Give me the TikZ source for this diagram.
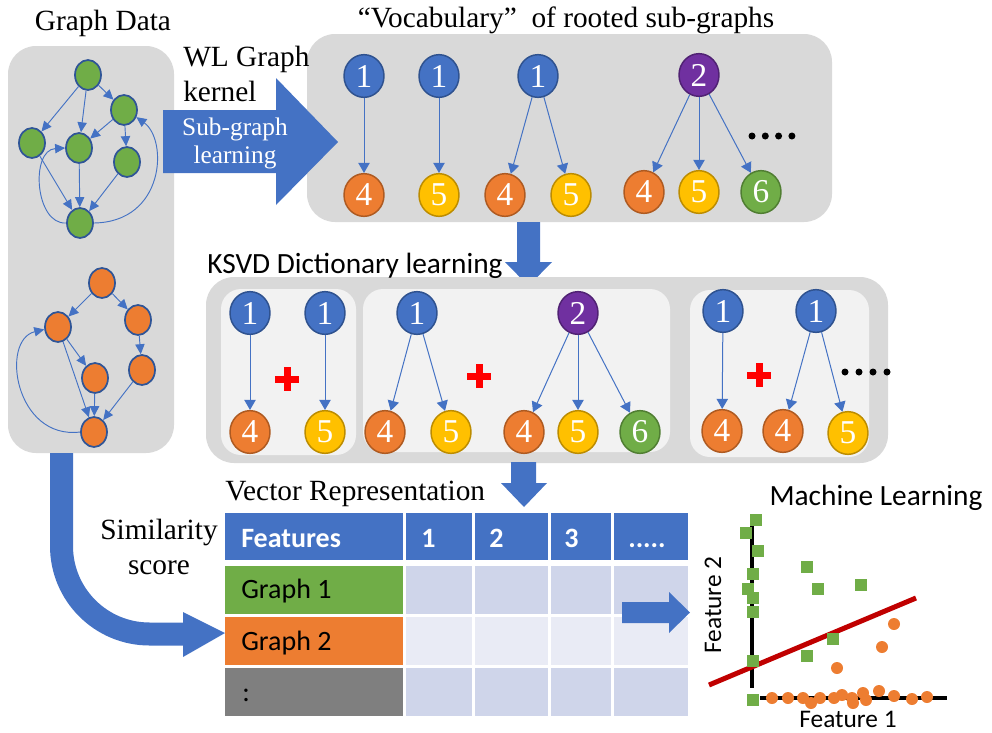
\documentclass[tikz,border=0pt]{standalone}
\usepackage{fontspec}
\setmainfont{Liberation Serif}
\setsansfont{Carlito}
\usetikzlibrary{shapes.geometric,arrows.meta,positioning,calc}

\definecolor{nodeblue}{RGB}{68,114,196}
\definecolor{blueline}{RGB}{47,82,143}
\definecolor{gline}{RGB}{47,85,151}
\definecolor{nodeorange}{RGB}{237,125,49}
\definecolor{orangeline}{RGB}{174,90,33}
\definecolor{nodeyellow}{RGB}{255,192,0}
\definecolor{yellowline}{RGB}{188,140,0}
\definecolor{nodegreen}{RGB}{112,173,71}
\definecolor{greenline}{RGB}{80,126,50}
\definecolor{nodepurple}{RGB}{112,48,160}
\definecolor{purpleline}{RGB}{80,34,115}
\definecolor{boxgray}{RGB}{217,217,217}
\definecolor{innergray}{RGB}{242,242,242}
\definecolor{celldark}{RGB}{207,213,234}
\definecolor{celllight}{RGB}{233,235,245}
\definecolor{rowgray}{RGB}{127,127,127}
\definecolor{sepred}{RGB}{192,0,0}

\begin{document}
\begin{tikzpicture}[
        x=0.75pt, y=-0.75pt,
        graybox/.style={fill=boxgray, rounded corners=21pt},
        innerbox/.style={fill=innergray, rounded corners=15pt},
        gnode/.style={ellipse, draw=gline, line width=1.3pt, minimum width=19.5pt, minimum height=22.5pt, inner sep=0pt},
        gedge/.style={draw=nodeblue, line width=0.7pt, -{Triangle[length=7.5pt,width=7pt]}},
        lab/.style={ellipse, line width=1.1pt, minimum width=30pt, minimum height=32pt, inner sep=0pt, text=white, font=\rmfamily\fontsize{25}{25}\selectfont},
        lblue/.style={lab, fill=nodeblue, draw=blueline},
        lorange/.style={lab, fill=nodeorange, draw=orangeline},
        lyellow/.style={lab, fill=nodeyellow, draw=yellowline},
        lgreen/.style={lab, fill=nodegreen, draw=greenline},
        lpurple/.style={lab, fill=nodepurple, draw=purpleline},
        tedge/.style={draw=nodeblue, line width=0.75pt, -{Triangle[length=7.5pt,width=8.5pt]}},
        serif/.style={font=\fontsize{22}{26}\selectfont, inner sep=0pt},
        sans/.style={font=\sffamily\fontsize{22}{26}\selectfont, inner sep=0pt},
        cell/.style={font=\sffamily\fontsize{21}{25}\selectfont, inner sep=0pt, anchor=base west},
        hcell/.style={cell, font=\sffamily\bfseries\fontsize{21}{25}\selectfont, text=white},
        blockarrow/.style={fill=nodeblue}
    ]
        \useasboundingbox (0,0) rectangle (992,732);

        % Boxes
        \fill[graybox] (8,46) rectangle (174,453);
        \fill[graybox] (307,34) rectangle (832,222);

        % Block arrows
        \fill[blockarrow] (163,110) -- (276,110) -- (276,78) -- (338,142) -- (276,205) -- (276,173) -- (163,173) -- cycle;
        \fill[blockarrow] (517,222) -- (540,222) -- (540,262) -- (552,262) -- (528.5,286) -- (505,262) -- (517,262) -- cycle;

        \fill[graybox] (206,277) rectangle (888,463);
        \fill[innerbox] (221,289) rectangle (356,455);
        \fill[innerbox] (363,289) rectangle (670,452);
        \fill[innerbox] (690,290) rectangle (869,457);

        \fill[blockarrow] (511,462) -- (536,462) -- (536,483) -- (547,483) -- (524,507) -- (501,483) -- (511,483) -- cycle;
        \draw[nodeblue, line width=17.25pt, rounded corners=66pt] (61.5,453) -- (61.5,634) -- (184,634);
        \fill[blockarrow] (183,612) -- (225,633) -- (183,657) -- cycle;

        % Texts
        \node[serif, anchor=base] (gdata) at (103,30) {Graph Data};
        \node[serif, anchor=base] (vocab) at (566,27) {“Vocabulary”\ \ of rooted sub-graphs};
        \node[serif, anchor=west, align=left] (wl) at (183,74) {WL Graph\\kernel};
        \node[serif, text=white, align=center, font=\fontsize{19}{21}\selectfont] (subg) at (235,143) {Sub-graph\\learning};
        \node[sans, anchor=base west] (ksvd) at (207,273) {KSVD Dictionary learning};
        \node[serif, anchor=base west] (vecrep) at (225,500) {Vector Representation};
        \node[serif, align=center] (sim) at (159,547) {Similarity\\score};
        \node[sans, anchor=base] (mlearn) at (876,505) {Machine Learning};
        \node[sans, anchor=base, font=\sffamily\fontsize{19}{22}\selectfont] (feat1) at (848,727) {Feature 1};
        \node[sans, rotate=90, font=\sffamily\fontsize{19}{22}\selectfont] (feat2) at (713,605) {Feature 2};

        % Graph 1
        \node[gnode, fill=nodegreen] (g1) at (88,75) {};
        \node[gnode, fill=nodegreen] (g2) at (124,110) {};
        \node[gnode, fill=nodegreen] (g3) at (32,143) {};
        \node[gnode, fill=nodegreen] (g4) at (79,148) {};
        \node[gnode, fill=nodegreen] (g5) at (127,162) {};
        \node[gnode, fill=nodegreen] (g6) at (80,223) {};
        \draw[gedge] (g1) -- (g2);
        \draw[gedge] (g1) -- (g3);
        \draw[gedge] (g1) -- (g4);
        \draw[gedge] (g2) -- (g4);
        \draw[gedge] (g2) -- (g5);
        \draw[gedge] (g3) -- (g6);
        \draw[gedge] (g4) -- (g6);
        \draw[gedge] (g5) -- (g6);
        \draw[gedge] (g6.west) .. controls (35,225) and (30,150) .. (g4.west);
        \draw[gedge] (g6.east) .. controls (165,222) and (168,140) .. (g2.-30);

        % Graph 2
        \node[gnode, fill=nodeorange] (o1) at (102,283) {};
        \node[gnode, fill=nodeorange] (o2) at (138,320) {};
        \node[gnode, fill=nodeorange] (o3) at (58,327) {};
        \node[gnode, fill=nodeorange] (o4) at (95,378) {};
        \node[gnode, fill=nodeorange] (o5) at (142,370) {};
        \node[gnode, fill=nodeorange] (o6) at (94,432) {};
        \draw[gedge] (o1) -- (o3);
        \draw[gedge] (o1) -- (o2);
        \draw[gedge] (o2) -- (o5);
        \draw[gedge] (o3) -- (o4);
        \draw[gedge] (o3) -- (o6);
        \draw[gedge] (o4) -- (o6);
        \draw[gedge] (o5) -- (o6);
        \draw[gedge] (o6.west) .. controls (15,440) and (0,340) .. (o3.190);

        % Vocabulary
        \node[lblue]   (t1)  at (364,76)  {1};
        \node[lorange] (t1c) at (364,195) {4};
        \node[lblue]   (t2)  at (439,76)  {1};
        \node[lyellow] (t2c) at (439,195) {5};
        \node[lblue]   (t3)  at (538,76)  {1};
        \node[lorange] (t3a) at (505,195) {4};
        \node[lyellow] (t3b) at (571,195) {5};
        \node[lpurple] (t4)  at (699,75)  {2};
        \node[lorange] (t4a) at (644,192) {4};
        \node[lyellow] (t4b) at (699,192) {5};
        \node[lgreen]  (t4c) at (761,192) {6};
        \draw[tedge] (t1) -- (t1c);
        \draw[tedge] (t2) -- (t2c);
        \draw[tedge] (t3) -- (t3a);
        \draw[tedge] (t3) -- (t3b);
        \draw[tedge] (t4) -- (t4a);
        \draw[tedge] (t4) -- (t4b);
        \draw[tedge] (t4) -- (t4c);

        % Dictionary
        \node[lblue]   (k1)  at (250,313) {1};
        \node[lorange] (k1c) at (250,432) {4};
        \node[lblue]   (k2)  at (325,313) {1};
        \node[lyellow] (k2c) at (325,432) {5};
        \node[lblue]   (k3)  at (417,313) {1};
        \node[lorange] (k3a) at (385,432) {4};
        \node[lyellow] (k3b) at (451,432) {5};
        \node[lpurple] (k4)  at (578,313) {2};
        \node[lorange] (k4a) at (524,432) {4};
        \node[lyellow] (k4b) at (578,432) {5};
        \node[lgreen]  (k4c) at (640,432) {6};
        \node[lblue]   (k5)  at (723,311) {1};
        \node[lorange] (k5c) at (722,431) {4};
        \node[lblue]   (k6)  at (816,311) {1};
        \node[lorange] (k6a) at (783,431) {4};
        \node[lyellow] (k6b) at (848,433) {5};
        \draw[tedge] (k1) -- (k1c);
        \draw[tedge] (k2) -- (k2c);
        \draw[tedge] (k3) -- (k3a);
        \draw[tedge] (k3) -- (k3b);
        \draw[tedge] (k4) -- (k4a);
        \draw[tedge] (k4) -- (k4b);
        \draw[tedge] (k4) -- (k4c);
        \draw[tedge] (k5) -- (k5c);
        \draw[tedge] (k6) -- (k6a);
        \draw[tedge] (k6) -- (k6b);

        \foreach \px/\py in {287/379, 479/376, 759/375}{
            \fill[red] (\px-12,\py-3.5) rectangle (\px+12,\py+3.5);
            \fill[red] (\px-3.5,\py-12) rectangle (\px+3.5,\py+12);
        }
        \foreach \dx in {0,1,2,3}{
            \fill (752+13.3*\dx,136) circle (3.5);
            \fill (845+14*\dx,372) circle (3.5);
        }

        % Table
        \fill[nodeblue] (225,513) rectangle (403,560);
        \fill[nodegreen] (225,566) rectangle (403,614);
        \fill[nodeorange] (225,617) rectangle (403,665);
        \fill[rowgray] (225,668) rectangle (403,716);
        \foreach \xl/\xr in {406/472, 475/548, 551/611, 614/688}{
            \fill[nodeblue] (\xl,513) rectangle (\xr,560);
            \fill[celldark] (\xl,566) rectangle (\xr,614);
            \fill[celllight] (\xl,617) rectangle (\xr,665);
            \fill[celldark] (\xl,668) rectangle (\xr,716);
        }
        \node[hcell] (hfeat) at (241,547) {Features};
        \node[hcell] (hone) at (421,547) {1};
        \node[hcell] (htwo) at (489,547) {2};
        \node[hcell] (hthree) at (564,547) {3};
        \node[hcell] (hmore) at (628,547) {.....};
        \node[cell] (rone) at (241,598) {Graph 1};
        \node[cell] (rtwo) at (241,650) {Graph 2};
        \node[cell] (rmore) at (242,701) {:};
        \fill[blockarrow] (622,602) -- (669,602) -- (669,592) -- (690,612.5) -- (669,633) -- (669,623) -- (622,623) -- cycle;

        % Scatter
        \draw[line width=3pt] (752,523) -- (752,688);
        \draw[line width=3pt] (760,698) -- (947,698);
        \draw[sepred, line width=3.75pt] (709,685) -- (916,598);
        \foreach \px/\py in {756/520,746/533,758/551,753/574,748/589,753/598,753/612,753/661,753/700,807/567,818/589,861/585,833/639,807/656}
            \fill[nodegreen] (\px-6,\py-6) rectangle (\px+6,\py+6);
        \foreach \px/\py in {894/624,882/647,837/668,772/698,788/698,803/698,811/703,820/698,834/698,842/695,852/698,853/703,863/693,866/700,879/691,894/696,912/699,927/697}
            \fill[nodeorange] (\px,\py) circle (6);

    \end{tikzpicture}
\end{document}
